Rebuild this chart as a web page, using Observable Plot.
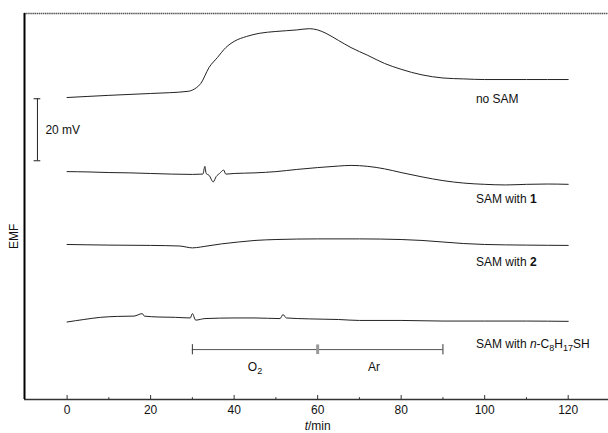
<!DOCTYPE html>
<html><head><meta charset="utf-8">
<script src="https://cdn.jsdelivr.net/npm/d3@7"></script>
<script src="https://cdn.jsdelivr.net/npm/@observablehq/plot@0.6"></script>
<style>
body{margin:0;background:#fff}
svg{font-family:"Liberation Sans",Arial,Helvetica,sans-serif}
</style>
</head><body><div id="chart"></div>
<script>
// time (min) and EMF (mV, arbitrary offset per trace as stacked in the figure)
const tNoSAM = [0,10,20,29,30,31,32,34,36,38,40,43,46,50,55,58,60,62,65,68,72,76,80,85,90,95,100,110,120];
const vNoSAM = [97.4,98.1,98.7,99.4,99.8,100.6,101.9,107.1,110.3,113.5,115.5,117.1,118.1,118.7,119.2,119.6,119.2,118.1,115.8,113.5,111.0,108.4,106.5,104.7,103.7,103.4,103.2,103.2,103.2];

const tSAM1 = [0,5,10,15,20,25,30,32.5,33,33.3,34,35,35.7,36.5,37.5,38,40,45,50,55,60,65,68,72,76,80,85,90,95,100,105,110,115,120];
const vSAM1 = [73.5,73.4,73.2,73.1,72.9,72.7,72.6,72.7,75.2,72.9,72.3,70.2,71.9,72.9,74.0,72.7,72.9,73.1,73.5,74.2,74.8,75.3,75.5,75.2,74.4,73.2,71.8,70.6,69.8,69.4,69.2,69.4,69.5,69.4];

const tSAM2 = [0,10,20,27,30,31,33,37,41,45,50,60,70,80,85,90,95,100,110,120];
const vSAM2 = [50.0,49.8,49.7,49.5,48.9,49.0,49.4,50.2,50.8,51.3,51.6,51.8,51.8,51.6,51.3,50.8,50.3,50.0,49.8,49.7];

const tSAMC8 = [0,4,8,12,16,18,18.5,22,26,29.5,30,30.8,33,40,45,51,51.7,52.5,58,65,70,80,90,100,110,120];
const vSAMC8 = [25.0,25.8,26.5,26.8,26.9,27.7,26.9,26.6,26.5,26.3,27.7,25.6,26.1,26.3,26.3,26.1,27.4,26.3,26.0,25.8,25.5,25.5,25.3,25.3,25.3,25.2];

const seriesNames = ["no SAM","SAM with 1","SAM with 2","SAM with n-C8H17SH"];
const seriesLabelY = [96.8, 64.5, 44.2, 17.7];   // label positions (mV)
const labelX = 97.9;

const majorTicks = [0,20,40,60,80,100,120];
const minorTicks = [10,30,50,70,90,110];
const tickLabels = ["0","20","40","60","80","100","120"];

const scaleBar = {t: -7.1, from: 77, to: 97, label: "20 mV"};
const gasBar = {start: 30, switchAt: 60, end: 90, level: 16.1, labels: ["O2","Ar"], labelT: [45, 73.5]};

const xDomain = [-10.2, 129.65];
const yDomain = [0, 124.5];
const emfY = 52.6;

const tArrs = [tNoSAM, tSAM1, tSAM2, tSAMC8];
const vArrs = [vNoSAM, vSAM1, vSAM2, vSAMC8];
const data = seriesNames.flatMap((s, i) => tArrs[i].map((t, j) => ({series: s, t, v: vArrs[i][j]})));
const labels = seriesNames.map((s, i) => ({s, x: labelX, y: seriesLabelY[i]}));

const chart = Plot.plot({
  width: 608, height: 433,
  marginLeft: 24, marginRight: 0, marginTop: 13, marginBottom: 34,
  style: {fontFamily: '"Liberation Sans",Arial,sans-serif', fontSize: "12px", background: "#fff", color: "#111", overflow: "visible"},
  x: {domain: xDomain, axis: null},
  y: {domain: yDomain, axis: null},
  marks: [
    Plot.line(data, {x: "t", y: "v", z: "series", stroke: "#222", strokeWidth: 1, curve: "monotone-x"}),
    // frame
    Plot.ruleY([yDomain[1]], {stroke: "#555", strokeWidth: 1.5, strokeDasharray: "1.5,0.6"}),
    Plot.ruleY([yDomain[0]], {stroke: "#333", strokeWidth: 1.5}),
    Plot.ruleX([xDomain[0]], {stroke: "#000", strokeWidth: 2}),
    // inward ticks
    Plot.ruleX(majorTicks, {y1: 0, y2: 1.3, stroke: "#333"}),
    Plot.ruleX(minorTicks, {y1: 0, y2: 0.6, stroke: "#333"}),
    Plot.text(majorTicks, {x: d => d, y: 0, dy: 11, text: (d, i) => tickLabels[i], fill: "#111", fontSize: 12}),
    Plot.text(["t/min"], {x: 60, y: 0, dy: 27, text: d => d, fill: "#111", fontSize: 12}),
    Plot.text(["EMF"], {x: xDomain[0], y: emfY, dx: -10, rotate: -90, text: d => d, fill: "#111", fontSize: 12}),
    // scale bar
    Plot.ruleX([scaleBar.t], {y1: scaleBar.from, y2: scaleBar.to, stroke: "#222"}),
    Plot.ruleY([scaleBar.from, scaleBar.to], {x1: scaleBar.t - 0.8, x2: scaleBar.t + 0.8, stroke: "#222"}),
    Plot.text([scaleBar.label], {x: scaleBar.t + 1.9, y: (scaleBar.from + scaleBar.to) / 2, text: d => d, textAnchor: "start", fill: "#111", fontSize: 12}),
    // gas bar
    Plot.ruleY([gasBar.level], {x1: gasBar.start, x2: gasBar.end, stroke: "#555"}),
    Plot.ruleX([gasBar.start, gasBar.end], {y1: gasBar.level - 1.7, y2: gasBar.level + 1.6, stroke: "#333"}),
    Plot.ruleX([gasBar.switchAt], {y1: gasBar.level - 1.6, y2: gasBar.level + 1.5, stroke: "#999", strokeWidth: 3}),
    Plot.text(gasBar.labels, {x: (d, i) => gasBar.labelT[i], y: gasBar.level - 5.8, text: d => d, fill: "#111", fontSize: 12}),
    // series labels
    Plot.text(labels, {x: "x", y: "y", text: "s", textAnchor: "start", fill: "#111", fontSize: 12})
  ]
});
document.getElementById("chart").appendChild(chart);

// rich text formatting (subscripts, italics, bold)
const NS = "http://www.w3.org/2000/svg";
function rich(el, parts) {
  el.textContent = "";
  let shift = 0;
  for (const p of parts) {
    const ts = document.createElementNS(NS, "tspan");
    ts.textContent = p.s;
    if (p.i) ts.setAttribute("font-style", "italic");
    if (p.b) ts.setAttribute("font-weight", "bold");
    const target = p.sub ? 3 : 0;
    if (target !== shift) { ts.setAttribute("dy", target - shift); shift = target; }
    if (p.sub) ts.setAttribute("font-size", "9px");
    el.appendChild(ts);
  }
}
chart.querySelectorAll("text").forEach(el => {
  const s = el.textContent;
  if (s === "SAM with n-C8H17SH") rich(el, [{s: "SAM with "}, {s: "n", i: 1}, {s: "-C"}, {s: "8", sub: 1}, {s: "H"}, {s: "17", sub: 1}, {s: "SH"}]);
  else if (s === "SAM with 1") rich(el, [{s: "SAM with "}, {s: "1", b: 1}]);
  else if (s === "SAM with 2") rich(el, [{s: "SAM with "}, {s: "2", b: 1}]);
  else if (s === "O2") rich(el, [{s: "O"}, {s: "2", sub: 1}]);
  else if (s === "t/min") rich(el, [{s: "t", i: 1}, {s: "/min"}]);
});
</script>
</body></html>
